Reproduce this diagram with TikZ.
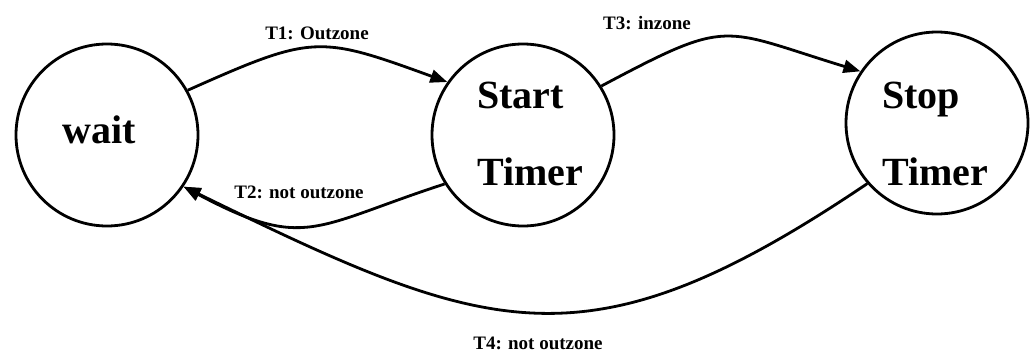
\documentclass[tikz,border=0pt]{standalone}
\usepackage{fontspec}
\setmainfont{Liberation Serif}
\usetikzlibrary{arrows.meta}
\begin{document}
\begin{tikzpicture}[x=1pt,y=1pt,
  state/.style={circle,draw,line width=2.8pt,minimum size=182pt,inner sep=0pt},
  stxt/.style={font=\fontsize{40}{77}\selectfont\bfseries,align=left,inner sep=0pt},
  trans/.style={line width=2.8pt,-{Triangle[length=17pt,width=13pt]}},
  lbl/.style={font=\fontsize{19}{21}\selectfont\bfseries,inner sep=0pt}]
\fill[white] (0,0) rectangle (1030,-356);
\useasboundingbox (0,0) rectangle (1030,-356);
\node[state] (wait) at (107,-135) {};
\node[state] (start) at (523,-135) {};
\node[state] (stop) at (937,-123) {};
\node[stxt,anchor=west] (waitt) at (62,-130) {wait};
\node[stxt,anchor=west] (startt) at (477,-134) {Start\\Timer};
\node[stxt,anchor=west] (stopt) at (882,-134) {Stop\\Timer};
\draw[trans] (wait.29) to[out=24,in=160,looseness=1.35] (start.145);
\draw[trans] (start.212) to[out=198,in=-28,looseness=1.35] (wait.-34);
\draw[trans] (start.32) to[out=28,in=163,looseness=1.45] (stop.146);
\draw[trans] (stop.221) to[out=214,in=-26,looseness=1.27] (wait.-34);
\node[lbl] (l1) at (317,-33) {T1: Outzone};
\node[lbl] (l2) at (299,-192) {T2: not outzone};
\node[lbl] (l3) at (647,-23) {T3: inzone};
\node[lbl] (l4) at (538,-343) {T4: not outzone};
\end{tikzpicture}
\end{document}
